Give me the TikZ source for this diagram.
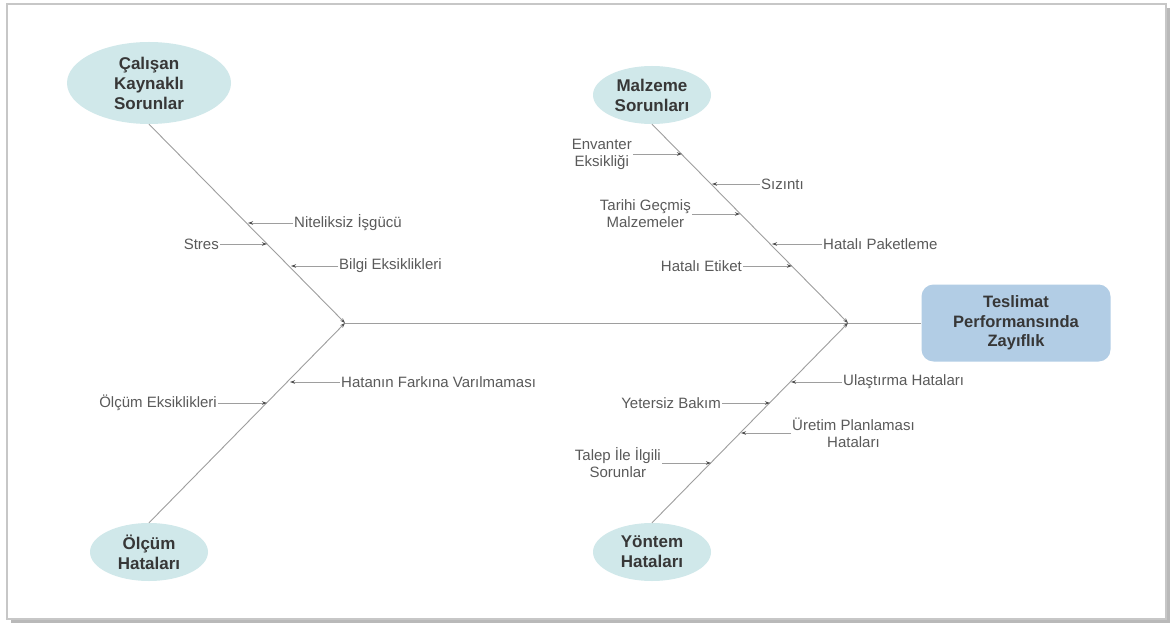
\documentclass[tikz,border=0pt]{standalone}
\usepackage{fontspec}
\setmainfont{Liberation Sans}
\usetikzlibrary{shapes.geometric,positioning,arrows.meta,shadows}
\definecolor{bonegray}{RGB}{158,158,158}
\definecolor{tipgray}{RGB}{80,80,80}
\definecolor{txtgray}{RGB}{90,90,90}
\definecolor{headtxt}{RGB}{55,55,55}
\definecolor{catfill}{RGB}{208,232,234}
\definecolor{efffill}{RGB}{178,205,229}

\begin{document}
\begin{tikzpicture}[x=1pt,y=-1pt,
  cause/.style={ellipse,fill=catfill,inner sep=0pt,minimum width=118pt,minimum height=58pt,
    align=center,font=\fontsize{17}{20}\selectfont\bfseries,text=headtxt},
  effect/.style={rectangle,rounded corners=12pt,fill=efffill,minimum width=189pt,minimum height=77pt,
    align=center,font=\fontsize{16.5}{19.5}\selectfont\bfseries,text=headtxt},
  lbl/.style={inner sep=1pt,align=center,font=\fontsize{15}{17}\selectfont,text=txtgray},
  bone/.style={draw=bonegray,line width=.9pt,-{Stealth[length=5pt,width=3.5pt,color=tipgray]}},
  spine/.style={draw=bonegray,line width=.9pt}]

\useasboundingbox (0,0) rectangle (1174,628);
\draw[draw=black!22,line width=1.5pt,fill=white,
  drop shadow={shadow xshift=4pt,shadow yshift=-4pt,fill=black!50,opacity=.55}] (7,4) rectangle (1166,619);

% head and main categories
\node[effect] (eff) at (1016,323) {Teslimat\\Performansında\\Zayıflık};
\node[cause,minimum width=164pt,minimum height=82pt] (cal) at (149,83) {Çalışan\\Kaynaklı\\Sorunlar};
\node[cause] (mal) at (652,95) {Malzeme\\Sorunları};
\node[cause] (olc) at (149,552) {Ölçüm\\Hataları};
\node[cause] (yon) at (652,552) {Yöntem\\Hataları};

\coordinate (j1) at (345,323);
\coordinate (j2) at (848,323);

\draw[spine] (j1) -- (eff);
\path (cal.south) edge[bone] (j1)
  (olc.north) edge[bone] (j1)
  (mal.south) edge[bone] (j2)
  (yon.north) edge[bone] (j2);

% points on the bones
\coordinate (n1) at (248,223);
\coordinate (n2) at (267,244);
\coordinate (n3) at (291,266);
\coordinate (o1) at (290,382);
\coordinate (o2) at (267,403);
\coordinate (m1) at (682,154);
\coordinate (m2) at (712,184);
\coordinate (m3) at (740,214);
\coordinate (m4) at (772,244);
\coordinate (m5) at (792,266);
\coordinate (y1) at (791,382);
\coordinate (y2) at (770,403);
\coordinate (y3) at (741,433);
\coordinate (y4) at (711,463);

% sub causes
\node[lbl,right=45pt of n1] (nit) {Niteliksiz İşgücü};
\node[lbl,left=47pt of n2] (str) {Stres};
\node[lbl,right=47pt of n3] (bil) {Bilgi Eksiklikleri};
\node[lbl,right=50pt of o1] (hat) {Hatanın Farkına Varılmaması};
\node[lbl,left=49pt of o2] (oek) {Ölçüm Eksiklikleri};
\node[lbl,left=49pt of m1] (env) {Envanter\\Eksikliği};
\node[lbl,right=48pt of m2] (siz) {Sızıntı};
\node[lbl,left=48pt of m3] (tar) {Tarihi Geçmiş\\Malzemeler};
\node[lbl,right=50pt of m4] (pak) {Hatalı Paketleme};
\node[lbl,left=49pt of m5] (eti) {Hatalı Etiket};
\node[lbl,right=51pt of y1] (ula) {Ulaştırma Hataları};
\node[lbl,left=48pt of y2] (bak) {Yetersiz Bakım};
\node[lbl,right=50pt of y3] (ure) {Üretim Planlaması\\Hataları};
\node[lbl,left=49pt of y4] (tal) {Talep İle İlgili\\Sorunlar};

\path (nit) edge[bone] (n1)
  (str) edge[bone] (n2)
  (bil) edge[bone] (n3)
  (hat) edge[bone] (o1)
  (oek) edge[bone] (o2)
  (env) edge[bone] (m1)
  (siz) edge[bone] (m2)
  (tar) edge[bone] (m3)
  (pak) edge[bone] (m4)
  (eti) edge[bone] (m5)
  (ula) edge[bone] (y1)
  (bak) edge[bone] (y2)
  (ure) edge[bone] (y3)
  (tal) edge[bone] (y4);

\end{tikzpicture}
\end{document}
